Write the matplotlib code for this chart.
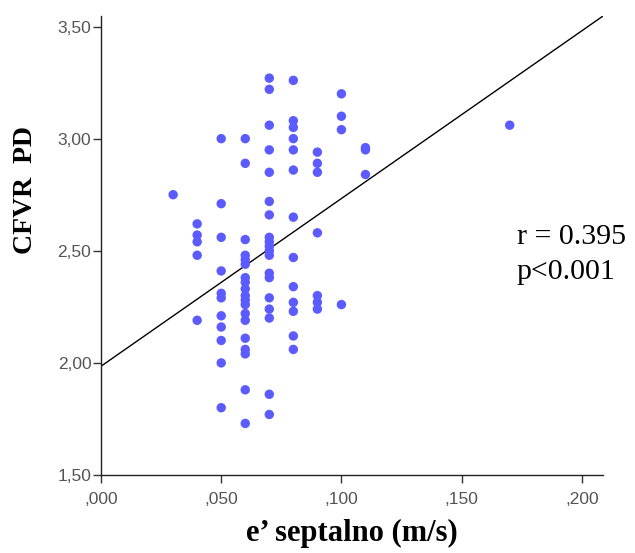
import matplotlib
matplotlib.use("Agg")
import matplotlib.pyplot as plt
import numpy as np

# Data
x_003 = [0.03]
y_003 = [2.75]
x_004 = [0.04] * 5
y_004 = [2.62, 2.57, 2.54, 2.48, 2.19]
x_005 = [0.05] * 11
y_005 = [3.00, 2.71, 2.56, 2.41, 2.31, 2.29, 2.21, 2.16, 2.10, 2.00, 1.80]
x_006 = [0.06] * 19
y_006 = [3.00, 2.89, 2.55, 2.48, 2.46, 2.44, 2.38, 2.36, 2.33, 2.30, 2.28,
         2.26, 2.22, 2.19, 2.11, 2.06, 2.04, 1.88, 1.73]
x_007 = [0.07] * 19
y_007 = [3.27, 3.22, 3.06, 2.95, 2.85, 2.72, 2.66, 2.56, 2.54, 2.52, 2.50,
         2.48, 2.40, 2.38, 2.29, 2.24, 2.20, 1.86, 1.77]
x_008 = [0.08] * 13
y_008 = [3.26, 3.08, 3.05, 3.00, 2.95, 2.86, 2.65, 2.47, 2.34, 2.27, 2.23, 2.12, 2.06]
x_009 = [0.09] * 7
y_009 = [2.94, 2.89, 2.85, 2.58, 2.30, 2.27, 2.24]
x_010 = [0.10] * 4
y_010 = [3.20, 3.10, 3.04, 2.26]
x_011 = [0.11] * 3
y_011 = [2.96, 2.95, 2.84]
x_017 = [0.17]
y_017 = [3.06]

e_septal = x_003 + x_004 + x_005 + x_006 + x_007 + x_008 + x_009 + x_010 + x_011 + x_017
cfvr_pd = y_003 + y_004 + y_005 + y_006 + y_007 + y_008 + y_009 + y_010 + y_011 + y_017

fit_intercept = 1.985
fit_slope = 7.48

xticks = [0.0, 0.05, 0.10, 0.15, 0.20]
xtick_labels = [",000", ",050", ",100", ",150", ",200"]
yticks = [1.5, 2.0, 2.5, 3.0, 3.5]
ytick_labels = ["1,50", "2,00", "2,50", "3,00", "3,50"]

stat_r = "r = 0.395"
stat_p = "p<0.001"

fig = plt.figure(figsize=(6.35, 5.53), dpi=100)
ax = fig.add_axes([101 / 635, 1 - 475 / 553, (603 - 101) / 635, (475 - 16) / 553])

ax.scatter(e_septal, cfvr_pd, s=46, color="#5b5bff", edgecolors="none", zorder=3)
ax.axline((0, fit_intercept), slope=fit_slope, color="black", lw=1.0, zorder=2)

ax.set_xlim(0, 0.2088)
ax.set_ylim(1.5, 3.547)

ax.set_xticks(xticks)
ax.set_xticklabels(xtick_labels)
ax.set_yticks(yticks)
ax.set_yticklabels(ytick_labels)

for s in ["top", "right"]:
    ax.spines[s].set_visible(False)
for s in ["left", "bottom"]:
    ax.spines[s].set_color("#222222")
    ax.spines[s].set_linewidth(1.0)

ax.tick_params(axis="both", direction="out", length=6, width=1, color="#333333",
               labelsize=12.5, labelcolor="#555555")
ax.tick_params(axis="y", pad=1)
ax.tick_params(axis="x", pad=6)
for lab in ax.get_xticklabels() + ax.get_yticklabels():
    lab.set_family(["Liberation Sans", "DejaVu Sans"])

ax.set_xlabel("e\u2019 septalno (m/s)", family=["Liberation Serif", "DejaVu Serif"],
              fontsize=22, fontweight="bold", labelpad=9)
ax.set_ylabel("CFVR  PD", family=["Liberation Serif", "DejaVu Serif"],
              fontsize=20, fontweight="bold")
ax.yaxis.set_label_coords(-0.125, 0.62)

ax.text(0.173, 2.56, stat_r, family=["Liberation Serif", "DejaVu Serif"],
        fontsize=21.5, ha="left", va="center")
ax.text(0.173, 2.405, stat_p, family=["Liberation Serif", "DejaVu Serif"],
        fontsize=21.5, ha="left", va="center")

fig.savefig("out.png", dpi=100)
